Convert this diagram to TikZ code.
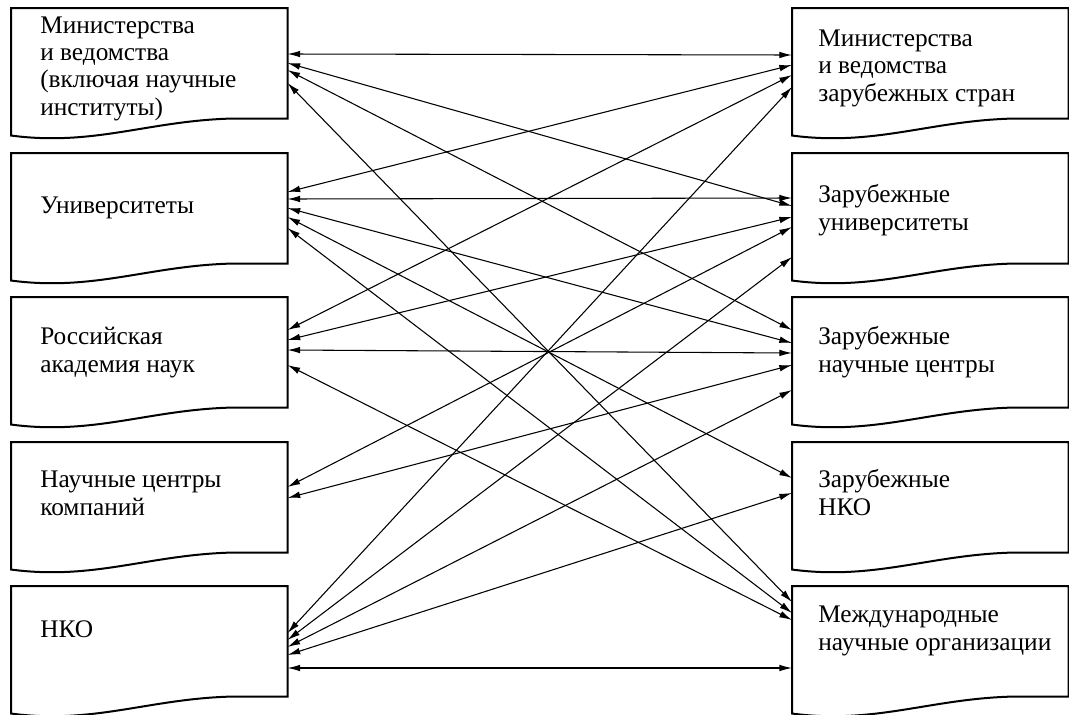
\documentclass[tikz,border=0pt]{standalone}
\usepackage{fontspec}
\setmainfont{Liberation Serif}
\usetikzlibrary{arrows.meta,calc}
\newcommand\docshape[1]{\draw[boxline] (#1.north west) -- (#1.north east) -- (#1.south east) -- ($(#1.south east)+(-55,0)$) .. controls ($(#1.south west)+(138,2)$) and ($(#1.south west)+(83,28)$) .. ($(#1.south west)+(0,17)$) -- cycle;}
\newcommand\link[4]{\draw[link] ($(#1.north east)+(0,#2)$) -- ($(#3.north west)+(0,#4)$);}
\begin{document}
\begin{tikzpicture}[x=0.75pt,y=-0.75pt,
  box/.style={draw=none,inner sep=0pt,minimum width=207pt,minimum height=82.5pt,anchor=north west},
  lbl/.style={anchor=base west,align=left,inner sep=0pt,font=\fontsize{19}{20.4}\selectfont},
  link/.style={line width=0.8pt,{Latex[length=9.5pt,width=5pt]}-{Latex[length=9.5pt,width=5pt]}},
  boxline/.style={line width=1.5pt,line join=miter}]
\useasboundingbox (0,0) rectangle (1069,714);
% boxes
\node[box] (L1) at (11,8) {};
\node[box] (L2) at (11,153) {};
\node[box] (L3) at (11,297) {};
\node[box] (L4) at (11,442) {};
\node[box] (L5) at (11,586) {};
\node[box] (R1) at (792,8) {};
\node[box] (R2) at (792,153) {};
\node[box] (R3) at (792,297) {};
\node[box] (R4) at (792,442) {};
\node[box] (R5) at (792,586) {};
\foreach \b in {L1,L2,L3,L4,L5,R1,R2,R3,R4,R5}{\docshape{\b}}
% labels (anchored at the baseline of the last line)
\node[lbl] (L1t) at ($(L1.north west)+(29,107)$) {Министерства\\и ведомства\\(включая научные\\институты)};
\node[lbl] (L2t) at ($(L2.north west)+(29,60)$) {Университеты};
\node[lbl] (L3t) at ($(L3.north west)+(29,75)$) {Российская\\академия наук};
\node[lbl] (L4t) at ($(L4.north west)+(29,73)$) {Научные центры\\компаний};
\node[lbl] (L5t) at ($(L5.north west)+(29,51)$) {НКО};
\node[lbl] (R1t) at ($(R1.north west)+(26,93)$) {Министерства\\и ведомства\\зарубежных стран};
\node[lbl] (R2t) at ($(R2.north west)+(26,77)$) {Зарубежные\\университеты};
\node[lbl] (R3t) at ($(R3.north west)+(26,75)$) {Зарубежные\\научные центры};
\node[lbl] (R4t) at ($(R4.north west)+(26,73)$) {Зарубежные\\НКО};
\node[lbl] (R5t) at ($(R5.north west)+(26,64)$) {Международные\\научные организации};
% connectors
\link{L1}{46}{R1}{47}
\link{L1}{55}{R2}{53}
\link{L1}{62}{R3}{33}
\link{L1}{75}{R5}{16}
\link{L2}{39}{R1}{57}
\link{L2}{46}{R2}{45}
\link{L2}{55}{R3}{46}
\link{L2}{64}{R4}{36}
\link{L2}{75}{R5}{27}
\link{L3}{33}{R1}{67}
\link{L3}{43}{R2}{64}
\link{L3}{53}{R3}{56}
\link{L3}{68}{R5}{34}
\link{L4}{45}{R2}{74}
\link{L4}{56}{R3}{68}
\link{L5}{47}{R1}{79}
\link{L5}{54}{R2}{104}
\link{L5}{61}{R3}{93}
\link{L5}{69}{R4}{51}
\link{L5}{82}{R5}{82}
\end{tikzpicture}
\end{document}
